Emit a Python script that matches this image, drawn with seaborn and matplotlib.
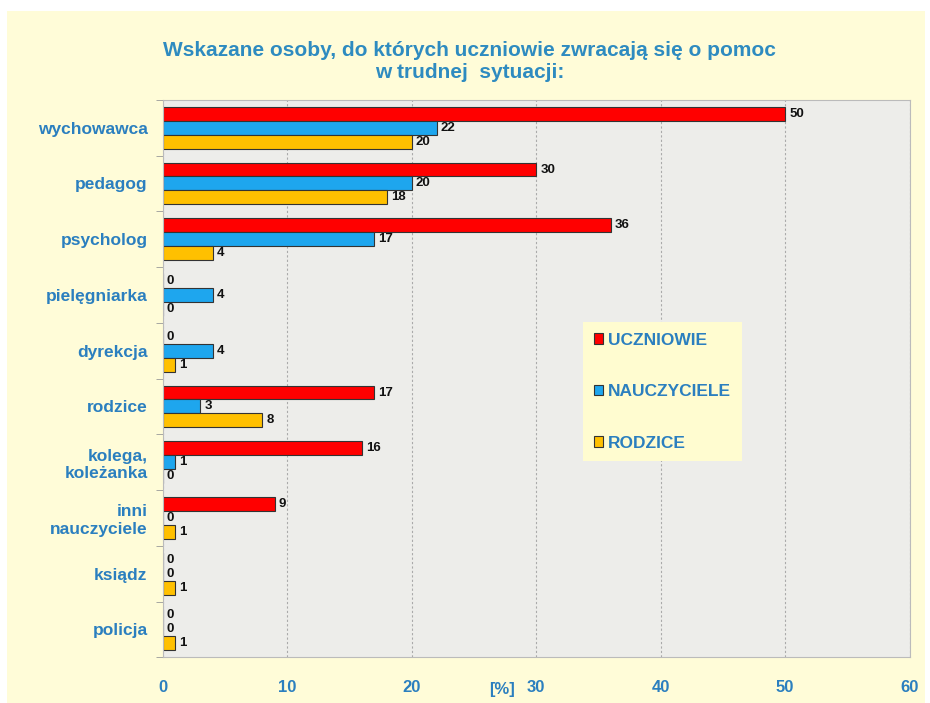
import pandas as pd
import matplotlib.pyplot as plt
import seaborn as sns
from matplotlib.patches import Rectangle

# Data
categories = ['wychowawca', 'pedagog', 'psycholog', 'pielęgniarka', 'dyrekcja',
              'rodzice', 'kolega,\nkoleżanka', 'inni\nnauczyciele', 'ksiądz', 'policja']
uczniowie = [50, 30, 36, 0, 0, 17, 16, 9, 0, 0]
nauczyciele = [22, 20, 17, 4, 4, 3, 1, 0, 0, 0]
rodzice = [20, 18, 4, 0, 1, 8, 0, 1, 1, 1]
groups = ['UCZNIOWIE', 'NAUCZYCIELE', 'RODZICE']
colors = ['#FF0000', '#1EA6EE', '#FFC000']

df = pd.DataFrame({'kategoria': categories * 3,
                   'grupa': [g for g in groups for _ in categories],
                   'wartosc': uczniowie + nauczyciele + rodzice})

blue = '#2B7FBF'
sns.set_style('white')
plt.rcParams['font.family'] = ['Liberation Sans', 'DejaVu Sans']

fig = plt.figure(figsize=(9.3, 7.03), dpi=100, facecolor='white')
fig.patches.append(Rectangle((0.008, 0.0), 0.987, 0.985, transform=fig.transFigure,
                             facecolor='#FFFCD8', edgecolor='none', zorder=-10))
ax = fig.add_axes([0.175, 0.065, 0.803, 0.793])
ax.set_facecolor('#EDEDEA')

sns.barplot(data=df, y='kategoria', x='wartosc', hue='grupa', palette=colors,
            orient='h', width=0.75, edgecolor='#333333', linewidth=0.8,
            saturation=1, ax=ax)

for cont in ax.containers:
    ax.bar_label(cont, fmt='%d', padding=3, fontsize=9.5, fontweight='bold', color='#111111')

ax.set_xlim(0, 60)
ax.set_xticks(range(0, 61, 10))
ax.set_yticks([i + 0.5 for i in range(-1, len(categories))], minor=True)
ax.grid(axis='x', color='#AAAAAA', linestyle=(0, (2, 2)), linewidth=0.8)
ax.set_axisbelow(True)
ax.set_ylabel('')
ax.set_xlabel('[%]', color=blue, fontsize=12, fontweight='bold')
ax.xaxis.set_label_coords(0.454, -0.045)
ax.tick_params(axis='x', colors=blue, labelsize=12, length=6, color='#999999', pad=10)
ax.tick_params(axis='y', which='major', colors=blue, labelsize=12.5, length=0, pad=11)
ax.tick_params(axis='y', which='minor', length=5, color='#999999', left=True)
for lbl in ax.get_xticklabels() + ax.get_yticklabels():
    lbl.set_fontweight('bold')
for s in ax.spines.values():
    s.set_color('#BBBBBB')

handles, labels = ax.get_legend_handles_labels()
leg = ax.legend(handles, labels, loc='upper left', bbox_to_anchor=(0.563, 0.601),
                frameon=True, facecolor='#FFFCD0', edgecolor='none', framealpha=1,
                fancybox=False, handlelength=0.55, handleheight=0.55, handletextpad=0.3,
                labelspacing=2.1, borderpad=0.6, borderaxespad=0, fontsize=12.5, title=None)
for t in leg.get_texts():
    t.set_color(blue)
    t.set_fontweight('bold')
leg.get_frame().set_linewidth(0)

fig.text(0.505, 0.913, 'Wskazane osoby, do których uczniowie zwracają się o pomoc\nw trudnej  sytuacji:',
         ha='center', va='center', fontsize=15, fontweight='bold', color='#2E8BC0',
         linespacing=1.2)

fig.savefig('out.png', dpi=100, facecolor=fig.get_facecolor())
